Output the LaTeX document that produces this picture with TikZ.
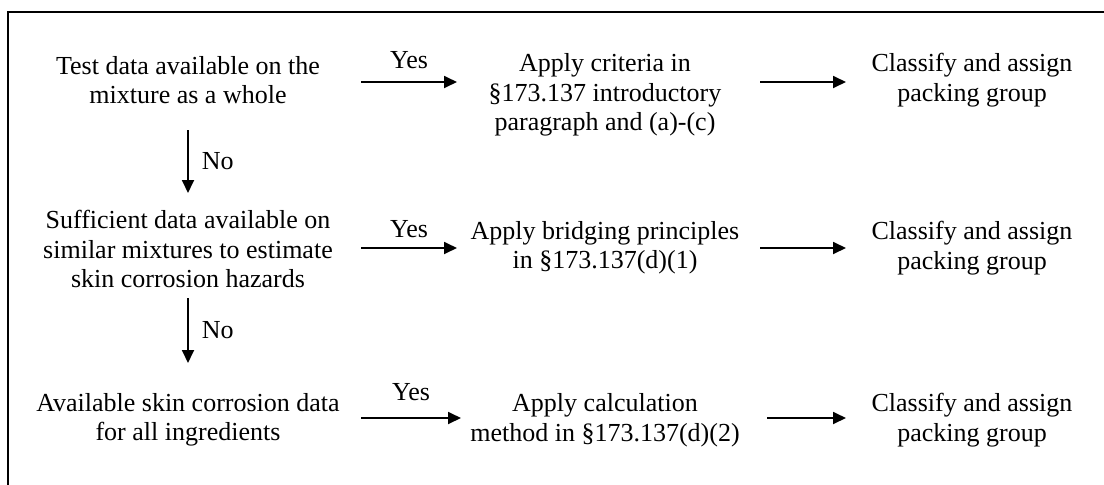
\documentclass[tikz,border=0pt]{standalone}
\usepackage{fontspec}
\setmainfont{Liberation Serif}
\usetikzlibrary{arrows.meta}
\begin{document}
\begin{tikzpicture}[x=1pt,y=-1pt,
  txt/.style={align=center,inner sep=0pt,font=\fontsize{26}{29.5}\selectfont},
  lbl/.style={inner sep=0pt,font=\fontsize{26}{29.5}\selectfont},
  arr/.style={line width=1.8pt,-{Triangle[length=13pt,width=12pt]}},
  frame/.style={line width=2pt}]
\useasboundingbox (0,0) rectangle (1104,485);
\draw[frame] (1106,12) -- (8,12) -- (8,487);
% row 1
\node[txt] (a1) at (188,80) {Test data available on the\\mixture as a whole};
\node[txt] (b1) at (605,95) {Apply criteria in\\\S173.137 introductory\\paragraph and (a)-(c)};
\node[txt] (c1) at (972,80) {Classify and assign\\packing group};
% row 2
\node[txt] (a2) at (188,249) {Sufficient data available on\\similar mixtures to estimate\\skin corrosion hazards};
\node[txt] (b2) at (605,247.5) {Apply bridging principles\\in \S173.137(d)(1)};
\node[txt] (c2) at (972,248) {Classify and assign\\packing group};
% row 3
\node[txt] (a3) at (188,420) {Available skin corrosion data\\for all ingredients};
\node[txt] (b3) at (605,420) {Apply calculation\\method in \S173.137(d)(2)};
\node[txt] (c3) at (972,420) {Classify and assign\\packing group};
% yes arrows
\draw[arr] ([shift={(173pt,-2pt)}]a1.center) -- node[lbl,above=12pt] (y1) {Yes} ([shift={(-148pt,13pt)}]b1.center);
\draw[arr] ([shift={(155pt,13pt)}]b1.center) -- ([shift={(-126pt,-2pt)}]c1.center);
\draw[arr] ([shift={(173pt,1pt)}]a2.center) -- node[lbl,above=9pt] (y2) {Yes} ([shift={(-148pt,-0.5pt)}]b2.center);
\draw[arr] ([shift={(155pt,-0.5pt)}]b2.center) -- ([shift={(-126pt,0pt)}]c2.center);
\draw[arr] ([shift={(173pt,2pt)}]a3.center) -- node[lbl,above=16pt] (y3) {Yes} ([shift={(-144pt,2pt)}]b3.center);
\draw[arr] ([shift={(162pt,2pt)}]b3.center) -- ([shift={(-126pt,2pt)}]c3.center);
% no arrows
\draw[arr] ([yshift=-50pt]a1.center) -- node[lbl,right=13pt] (n1) {No} ([yshift=56pt]a2.center);
\draw[arr] ([yshift=-49pt]a2.center) -- node[lbl,right=13pt] (n2) {No} ([yshift=57pt]a3.center);
\end{tikzpicture}
\end{document}
